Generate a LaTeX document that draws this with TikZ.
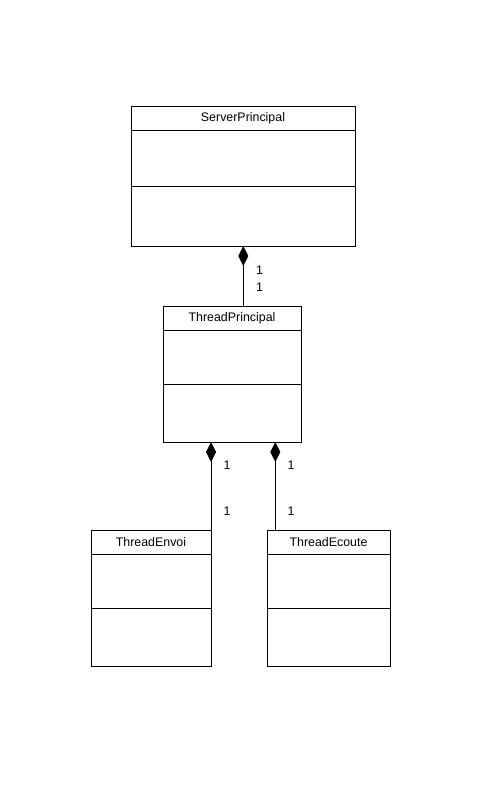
\documentclass[tikz,border=0pt]{standalone}
\usepackage{fontspec}
\setmainfont{Liberation Sans}
\usetikzlibrary{arrows.meta}
\begin{document}
\begin{tikzpicture}[x=1pt,y=-1pt,
  classbox/.style={draw,line width=1pt,rectangle,inner sep=0pt,anchor=north west},
  title/.style={font=\fontsize{12.4}{14}\selectfont,inner sep=0pt},
  mult/.style={font=\fontsize{12.4}{14}\selectfont,inner sep=0pt},
  comp/.style={line width=1pt,-{Diamond[length=20pt,width=10pt,fill=black]}}]
\useasboundingbox[fill=white] (0,0) rectangle (500,800);
% ServerPrincipal
\node[classbox,minimum width=224pt,minimum height=140pt] (sp) at (131,106) {};
\draw[line width=1pt] (131,130) -- (355,130) (131,186) -- (355,186);
\node[title] (spt) at (243,118.5) {ServerPrincipal};
% ThreadPrincipal
\node[classbox,minimum width=138pt,minimum height=136pt] (tp) at (163,306) {};
\draw[line width=1pt] (163,330) -- (301,330) (163,384) -- (301,384);
\node[title] (tpt) at (232,318.5) {ThreadPrincipal};
% ThreadEnvoi
\node[classbox,minimum width=120pt,minimum height=136pt] (ten) at (91,530) {};
\draw[line width=1pt] (91,554) -- (211,554) (91,608.5) -- (211,608.5);
\node[title] (tent) at (151,542.5) {ThreadEnvoi};
% ThreadEcoute
\node[classbox,minimum width=123pt,minimum height=136pt] (tec) at (267,530) {};
\draw[line width=1pt] (267,554) -- (390,554) (267,608.5) -- (390,608.5);
\node[title] (tect) at (328.5,542.5) {ThreadEcoute};
% connectors
\coordinate (c1a) at (243.3,306);
\coordinate (c1b) at (243.3,246);
\draw[comp] (c1a) -- (c1b);
\coordinate (c2a) at (211,530);
\coordinate (c2b) at (211,442);
\draw[comp] (c2a) -- (c2b);
\coordinate (c3a) at (275.3,530);
\coordinate (c3b) at (275.3,442);
\draw[comp] (c3a) -- (c3b);
% multiplicities
\node[mult] (m1) at (259.5,270) {1};
\node[mult] (m2) at (259.5,287.5) {1};
\node[mult] (m3) at (227,465) {1};
\node[mult] (m4) at (227,511.3) {1};
\node[mult] (m5) at (291,465) {1};
\node[mult] (m6) at (291,511.3) {1};
\end{tikzpicture}
\end{document}
